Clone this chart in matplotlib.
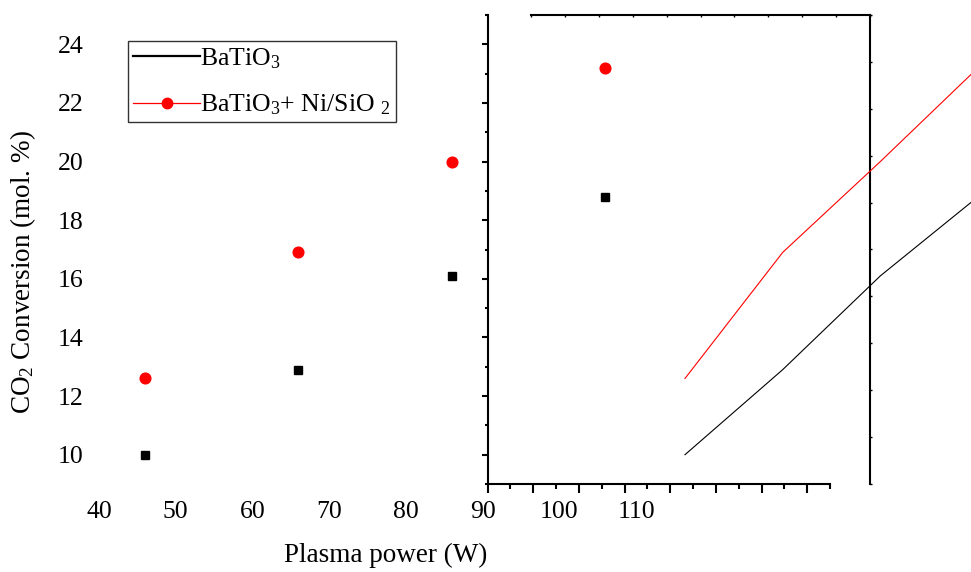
import numpy as np
import matplotlib.pyplot as plt
from matplotlib.lines import Line2D
from matplotlib.ticker import MultipleLocator

# data
power = [46, 66, 86, 106]
batio3 = [10.0, 12.9, 16.1, 18.8]
batio3_ni = [12.6, 16.9, 20.0, 23.2]

x_ticks = [40, 50, 60, 70, 80, 90, 100, 110]
y_ticks = [10, 12, 14, 16, 18, 20, 22, 24]
labels = ['BaTiO$_3$', 'BaTiO$_3$+ Ni/SiO $_2$']

W, H = 971, 572
plt.rcParams['font.family'] = ['Liberation Serif', 'DejaVu Serif']
plt.rcParams['mathtext.fontset'] = 'custom'
plt.rcParams['mathtext.rm'] = 'Liberation Serif'
plt.rcParams['mathtext.it'] = 'Liberation Serif:italic'

fig = plt.figure(figsize=(W / 100, H / 100), dpi=100)


def box(x0, x1, y0, y1):
    # pixel box (origin top-left) -> figure-fraction rect
    return [x0 / W, 1 - y1 / H, (x1 - x0) / W, (y1 - y0) / H]


# frame layer 1: left + bottom axis with ticks, no labels
axA = fig.add_axes(box(487.5, 830, 15, 484))
axA.set_xlim(0, 7.5)
axA.set_ylim(9, 25)
axA.patch.set_visible(False)
axA.spines['top'].set_visible(False)
axA.spines['right'].set_visible(False)
for s in ('left', 'bottom'):
    axA.spines[s].set_linewidth(1.5)
axA.xaxis.set_major_locator(MultipleLocator(1))
axA.xaxis.set_minor_locator(MultipleLocator(0.5))
axA.yaxis.set_major_locator(MultipleLocator(2))
axA.yaxis.set_minor_locator(MultipleLocator(1))
axA.tick_params(labelbottom=False, labelleft=False, direction='out', width=1.5)
axA.tick_params(axis='x', which='major', length=6.5)
axA.tick_params(axis='x', which='minor', length=3.6, width=1.5)
axA.tick_params(axis='y', which='major', length=4)
axA.tick_params(axis='y', which='minor', length=2.2, width=1.5)

# frame layer 2: top + right lines
axB = fig.add_axes(box(531, 870, 15, 484))
axB.set_xlim(0, 10)
axB.set_ylim(0, 10)
axB.patch.set_visible(False)
axB.spines['left'].set_visible(False)
axB.spines['bottom'].set_visible(False)
for s in ('top', 'right'):
    axB.spines[s].set_linewidth(1.5)
axB.xaxis.set_ticks_position('top')
axB.yaxis.set_ticks_position('right')
axB.xaxis.set_major_locator(MultipleLocator(1))
axB.yaxis.set_major_locator(MultipleLocator(1))
axB.tick_params(labeltop=False, labelright=False, length=1.5, width=1)
axB.tick_params(axis='x', direction='in')
axB.tick_params(axis='y', direction='out')

# line layer (shifted scale)
axL = fig.add_axes(box(685, 978, 15, 484))
axL.set_xlim(46, 106)
axL.set_ylim(9, 25)
axL.axis('off')
axL.plot(power, batio3, color='black', lw=0.8, clip_on=False)
axL.plot(power, batio3_ni, color='red', lw=0.8, clip_on=False)

# marker layer with tick labels
ax = fig.add_axes(box(99, 636, 15, 484))
ax.set_xlim(40, 110)
ax.set_ylim(9, 25)
ax.patch.set_visible(False)
for s in ax.spines.values():
    s.set_visible(False)
ax.set_xticks(x_ticks)
ax.set_yticks(y_ticks)
ax.tick_params(length=0, labelsize=18.5)
ax.tick_params(axis='x', pad=12.5)
ax.tick_params(axis='y', pad=11)
ax.plot(power, batio3, 's', color='black', ms=5.5, ls='none', clip_on=False)
ax.plot(power, batio3_ni, 'o', color='red', ms=7.7, ls='none', clip_on=False)

handles = [Line2D([], [], color='black', lw=1.6),
           Line2D([], [], color='red', lw=0.9, marker='o', ms=7.5)]
leg = ax.legend(handles, labels, loc='upper left',
                bbox_to_anchor=(128 / W, 1 - 41 / H), bbox_transform=fig.transFigure,
                fontsize=18.5, frameon=True, fancybox=False, edgecolor='#333333',
                framealpha=1, borderpad=0.2, handlelength=2.6, handletextpad=0.0,
                labelspacing=0.85, borderaxespad=0)
leg.get_frame().set_linewidth(1.0)

fig.text(386 / W, 1 - 555 / H, 'Plasma power (W)', ha='center', va='center', fontsize=19.5)
fig.text(23 / W, 1 - 272 / H, 'CO$_2$ Conversion (mol. %)', rotation=90,
         ha='center', va='center', fontsize=19.5)

fig.savefig('out.png', dpi=100)
